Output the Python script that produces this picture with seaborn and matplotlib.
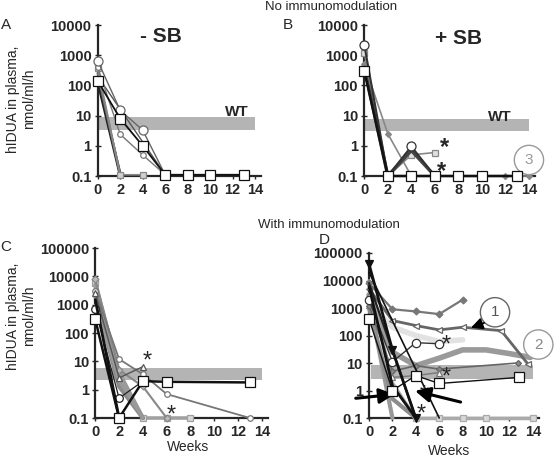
import numpy as np
import matplotlib
matplotlib.use('Agg')
import matplotlib.pyplot as plt
import seaborn as sns

# ---- data (hIDUA activity, nmol/ml/h, per animal) ----
weeks_ticks = [0, 2, 4, 6, 8, 10, 12, 14]
top_yticks = [0.1, 1, 10, 100, 1000, 10000]
top_ylabels = ['0.1', '1', '10', '100', '1000', '10000']
bot_yticks = [0.1, 1, 10, 100, 1000, 10000, 100000]
bot_ylabels = ['0.1', '1', '10', '100', '1000', '10000', '100000']

# normal range of wild type (band)
wt_a = [3.3, 9]
wt_b = [3, 8]
wt_c = [2.2, 6]
wt_d = [2.7, 8.3]

# A: - SB, no immunomodulation
a_circle_wk = [0, 2, 4, 6]
a_circle = [650, 15, 3.3, 0.11]
a_square_wk = [0, 2, 4, 6, 8, 10, 13]
a_square = [140, 8, 1, 0.11, 0.11, 0.11, 0.11]
a_small_wk = [0, 2, 4, 6]
a_small = [400, 2.4, 0.5, 0.11]
a_cross_wk = [0, 2, 4]
a_cross = [380, 0.11, 0.11]
a_drop1_wk = [0, 2]
a_drop1 = [140, 0.11]
a_drop2_wk = [0, 2]
a_drop2 = [250, 0.11]
a_drop3_wk = [0, 6]
a_drop3 = [200, 0.11]

# B: + SB, no immunomodulation
b_circle_wk = [0, 2, 4, 6]
b_circle = [2200, 0.1, 0.95, 0.1]
b_square_wk = [0, 2, 4, 6, 8, 10, 13]
b_square = [300, 0.1, 0.1, 0.1, 0.1, 0.1, 0.1]
b_cross_wk = [0, 2, 4, 6]
b_cross = [1200, 0.1, 0.5, 0.6]
b_tri_wk = [0, 2, 4, 6]
b_tri = [400, 0.1, 0.7, 0.1]
b_dia_wk = [0, 2, 4, 6, 8, 10, 12, 14]
b_dia = [500, 2.5, 0.1, 0.1, 0.1, 0.1, 0.1, 0.1]

# C: - SB, with immunomodulation
c_sq1_wk = [0, 2, 4, 6, 13]
c_sq1 = [300, 0.1, 2, 1.9, 1.8]
c_black_wk = [0, 2]
c_black = [1500, 0.1]
c_circ_wk = [0, 2, 4]
c_circ = [700, 0.5, 2]
c_tri_wk = [0, 2, 4]
c_tri = [2500, 2.6, 6.5]
c_gcirc_wk = [0, 2, 4, 6, 13]
c_gcirc = [3000, 12, 3.5, 0.7, 0.1]
c_g1_wk = [0, 2, 4]
c_g1 = [5000, 4, 0.1]
c_g2_wk = [0, 2, 4]
c_g2 = [2000, 1.3, 0.1]
c_g3_wk = [0, 2, 4, 6]
c_g3 = [8000, 5, 1.3, 0.1]
c_g4_wk = [0, 2, 4, 6, 8]
c_g4 = [6000, 3, 0.1, 0.1, 0.1]
c_g5_wk = [0, 2, 4]
c_g5 = [1000, 2, 0.1]

# D: + SB, with immunomodulation
d_dia_wk = [0, 2, 4, 6, 8]
d_dia = [8000, 900, 750, 600, 2000]
d_tri_wk = [0, 2, 4, 6, 8, 11.3, 13.6]
d_tri = [5000, 350, 230, 160, 200, 150, 9]
d_light_wk = [0, 2, 4, 6, 8]
d_light = [1500, 200, 100, 60, 70]
d_circ_wk = [0, 2, 4, 6]
d_circ = [2000, 11, 55, 50]
d_thick_wk = [0, 2, 4, 6, 8, 10, 12, 13.8]
d_thick = [3000, 25, 8, 15, 30, 30, 22, 16]
d_sdia_wk = [0, 2, 4, 6, 12.7]
d_sdia = [1200, 5, 8, 6, 10]
d_sq_wk = [0, 2, 4, 6, 12.8]
d_sq = [400, 1, 3.5, 1.8, 3]
d_stri_wk = [0, 2, 4, 6]
d_stri = [3000, 3, 3.5, 4.5]
d_b1_wk = [0, 2, 4]
d_b1 = [40000, 30, 0.1]
d_b2_wk = [0, 6]
d_b2 = [20000, 0.1]
d_b3_wk = [0, 4]
d_b3 = [8000, 0.1]
d_b4_wk = [0, 2, 4]
d_b4 = [6000, 1.5, 0.1]
d_g1_wk = [0, 2]
d_g1 = [2000, 0.1]
d_g2_wk = [0, 2, 4]
d_g2 = [1000, 0.5, 0.1]
d_g3_wk = [0, 2, 4]
d_g3 = [10000, 2, 0.1]
d_floor_wk = [4, 6, 8, 10, 14]
d_floor = [0.1, 0.1, 0.1, 0.1, 0.1]

W, H = 554, 458

sns.set_style('ticks')
plt.rcParams['font.family'] = ['Liberation Sans', 'DejaVu Sans']

fig = plt.figure(figsize=(W / 100, H / 100), dpi=100)


def px(x, y):
    return x / W, 1 - y / H


def line(ax, wk, vals, color, lw=1.0, marker=None, ms=5, mfc='white', mec=None, z=3):
    sns.lineplot(x=wk, y=vals, ax=ax, color=color, lw=lw, marker=marker,
                 markersize=ms, markerfacecolor=mfc,
                 markeredgecolor=mec if mec else color, markeredgewidth=0.9,
                 clip_on=False, zorder=z, estimator=None, sort=False)


def setup(ax, yticks, ylabels, band, band_x0=0):
    ax.set_yscale('log')
    ax.set_ylim(yticks[0], yticks[-1])
    ax.set_xlim(0, 14.5)
    ax.fill_between([band_x0, 14], band[0], band[1], color='#b4b4b4', lw=0, zorder=0)
    ax.set_yticks(yticks)
    ax.set_yticklabels(ylabels)
    ax.yaxis.set_minor_locator(matplotlib.ticker.NullLocator())
    ax.set_xticks(weeks_ticks)
    ax.set_xticklabels([str(w) for w in weeks_ticks])
    for lab in ax.get_xticklabels() + ax.get_yticklabels():
        lab.set_fontweight('bold')
        lab.set_fontsize(10.5)
    ax.tick_params(axis='y', length=5, width=1, pad=2, direction='inout')
    ax.tick_params(axis='x', length=2, width=1, pad=3)
    sns.despine(ax=ax)
    for s in ['left', 'bottom']:
        ax.spines[s].set_linewidth(1.6)
    ax.set_xlabel('')
    ax.set_ylabel('')
    ax.patch.set_alpha(0)


axA = fig.add_axes([0.1764, 0.6157, 0.2942, 0.3297])
axB = fig.add_axes([0.6576, 0.6157, 0.3078, 0.3297])
axC = fig.add_axes([0.1720, 0.0873, 0.3115, 0.3712])
axD = fig.add_axes([0.6661, 0.0873, 0.3062, 0.3603])

# ---- A ----
line(axA, a_drop1_wk, a_drop1, '#222222', lw=2.2)
line(axA, a_drop2_wk, a_drop2, '#777777', lw=1.6)
line(axA, a_drop3_wk, a_drop3, '#555555', lw=1.0)
line(axA, a_cross_wk, a_cross, '#888888', lw=1.2, marker='s', ms=4, mfc='#d0d0d0')
line(axA, a_small_wk, a_small, '#777777', lw=1.0, marker='o', ms=4)
line(axA, a_circle_wk, a_circle, '#666666', lw=1.0, marker='o', ms=6.5)
line(axA, a_square_wk, a_square, '#111111', lw=1.3, marker='s', ms=6.5, z=4)
setup(axA, top_yticks, top_ylabels, wt_a)

# ---- B ----
line(axB, b_dia_wk, b_dia, '#888888', lw=1.2, marker='D', ms=3, mfc='#888888')
line(axB, b_cross_wk, b_cross, '#888888', lw=1.2, marker='s', ms=4.5, mfc='#e0e0e0')
line(axB, b_tri_wk, b_tri, '#444444', lw=2.4)
line(axB, b_circle_wk, b_circle, '#333333', lw=1.5, marker='o', ms=6.5)
line(axB, b_square_wk, b_square, '#111111', lw=1.8, marker='s', ms=6.5, z=4)
setup(axB, top_yticks, top_ylabels, wt_b)

# ---- C ----
line(axC, c_g4_wk, c_g4, '#a0a0a0', lw=2.5, marker='s', ms=4.5, mfc='#d8d8d8')
line(axC, c_g1_wk, c_g1, '#9a9a9a', lw=3)
line(axC, c_g2_wk, c_g2, '#8a8a8a', lw=3)
line(axC, c_g5_wk, c_g5, '#999999', lw=2)
line(axC, c_g3_wk, c_g3, '#888888', lw=1.5, marker='D', ms=3.5, mfc='#bbbbbb')
line(axC, c_gcirc_wk, c_gcirc, '#777777', lw=1.3, marker='o', ms=4)
line(axC, c_tri_wk, c_tri, '#555555', lw=1.0, marker='^', ms=5)
line(axC, c_circ_wk, c_circ, '#222222', lw=0.9, marker='o', ms=5.5)
line(axC, c_black_wk, c_black, '#111111', lw=2)
line(axC, c_sq1_wk, c_sq1, '#111111', lw=1.8, marker='s', ms=6.5, z=4)
setup(axC, bot_yticks, bot_ylabels, wt_c)

# ---- D ----
line(axD, d_light_wk, d_light, '#e2e2e2', lw=4)
line(axD, d_thick_wk, d_thick, '#9a9a9a', lw=4)
line(axD, d_g1_wk, d_g1, '#999999', lw=3)
line(axD, d_g2_wk, d_g2, '#8c8c8c', lw=3)
line(axD, d_g3_wk, d_g3, '#aaaaaa', lw=2)
line(axD, d_floor_wk, d_floor, '#aaaaaa', lw=2.5, marker='s', ms=4.5, mfc='#d8d8d8')
line(axD, d_dia_wk, d_dia, '#777777', lw=1.6, marker='D', ms=3.5, mfc='#777777')
line(axD, d_tri_wk, d_tri, '#666666', lw=2, marker='<', ms=5)
line(axD, d_sdia_wk, d_sdia, '#666666', lw=1.2, marker='D', ms=3, mfc='#888888')
line(axD, d_stri_wk, d_stri, '#777777', lw=1.0, marker='^', ms=4.5)
line(axD, d_circ_wk, d_circ, '#333333', lw=1.0, marker='o', ms=6)
line(axD, d_b2_wk, d_b2, '#111111', lw=1.2)
line(axD, d_b3_wk, d_b3, '#222222', lw=1.6)
line(axD, d_b4_wk, d_b4, '#111111', lw=2)
line(axD, d_b1_wk, d_b1, '#111111', lw=2, marker='v', ms=5.5, mfc='#111111')
line(axD, d_sq_wk, d_sq, '#111111', lw=1.0, marker='s', ms=6.5, z=4)
setup(axD, bot_yticks, bot_ylabels, wt_d, band_x0=0.2)

# ---- annotations ----
axA.text(12.4, 13.5, 'WT', fontsize=11, fontweight='bold', ha='center', va='center')
axB.text(11.5, 9.3, 'WT', fontsize=11, fontweight='bold', ha='center', va='center')

star = dict(fontsize=17, fontweight='bold', ha='center', va='center')
axB.text(6.86, 0.9, '*', **star)
axB.text(6.58, 0.14, '*', **star)
star_n = dict(fontsize=17, ha='center', va='center')
axC.text(4.4, 10, '*', **star_n)
axC.text(6.42, 0.12, '*', **star_n)
axD.text(6.56, 42, '*', **star_n)
axD.text(6.64, 2.9, '*', **star_n)
axD.text(4.7, 0.66, '*', **star_n)
axD.text(4.42, 0.13, '*', **star_n)

circ = lambda ec: dict(boxstyle='circle,pad=0.5', fc='white', ec=ec, lw=1)
axB.text(14.0, 0.34, '3', fontsize=11, color='#999999', ha='center', va='center',
         bbox=circ('#999999'), clip_on=False)
axD.text(10.77, 700, '1', fontsize=11, color='#555555', ha='center', va='center',
         bbox=circ('#666666'), clip_on=False)
axD.text(14.47, 47, '2', fontsize=11, color='#888888', ha='center', va='center',
         bbox=circ('#999999'), clip_on=False)

arrow = dict(arrowstyle='-|>,head_length=0.9,head_width=0.45', color='black', lw=2.2)
axD.annotate('', xy=(2.4, 0.74), xytext=(-1.37, 0.51), arrowprops=arrow,
             annotation_clip=False)
axD.annotate('', xy=(3.7, 1.03), xytext=(8.06, 0.36), arrowprops=arrow,
             annotation_clip=False)
axD.annotate('', xy=(8.49, 178), xytext=(10.06, 310),
             arrowprops=dict(arrowstyle='-|>,head_length=0.7,head_width=0.35',
                             color='black', lw=1.3), annotation_clip=False)

# ---- figure texts ----
fig.text(*px(161, 37), '- SB', fontsize=15, fontweight='bold', ha='center', va='center')
fig.text(*px(459, 39), '+ SB', fontsize=15, fontweight='bold', ha='center', va='center')
fig.text(*px(331, 7), 'No immunomodulation', fontsize=9.5, ha='center', va='center')
fig.text(*px(329, 225), 'With immunomodulation', fontsize=9.5, ha='center', va='center')
for y in (99, 316):
    fig.text(*px(21, y), 'hIDUA in plasma,\nnmol/ml/h', fontsize=10, rotation=90,
             ha='center', va='center', linespacing=1.15)
fig.text(*px(6, 25), 'A', fontsize=11, ha='center', va='center')
fig.text(*px(288, 25), 'B', fontsize=11, ha='center', va='center')
fig.text(*px(6, 247), 'C', fontsize=11, ha='center', va='center')
fig.text(*px(324, 240), 'D', fontsize=11, ha='center', va='center')
fig.text(*px(188, 447), 'Weeks', fontsize=10, ha='center', va='center')
fig.text(*px(449, 451), 'Weeks', fontsize=10, ha='center', va='center')

fig.savefig('out.png', dpi=100, facecolor='white')
